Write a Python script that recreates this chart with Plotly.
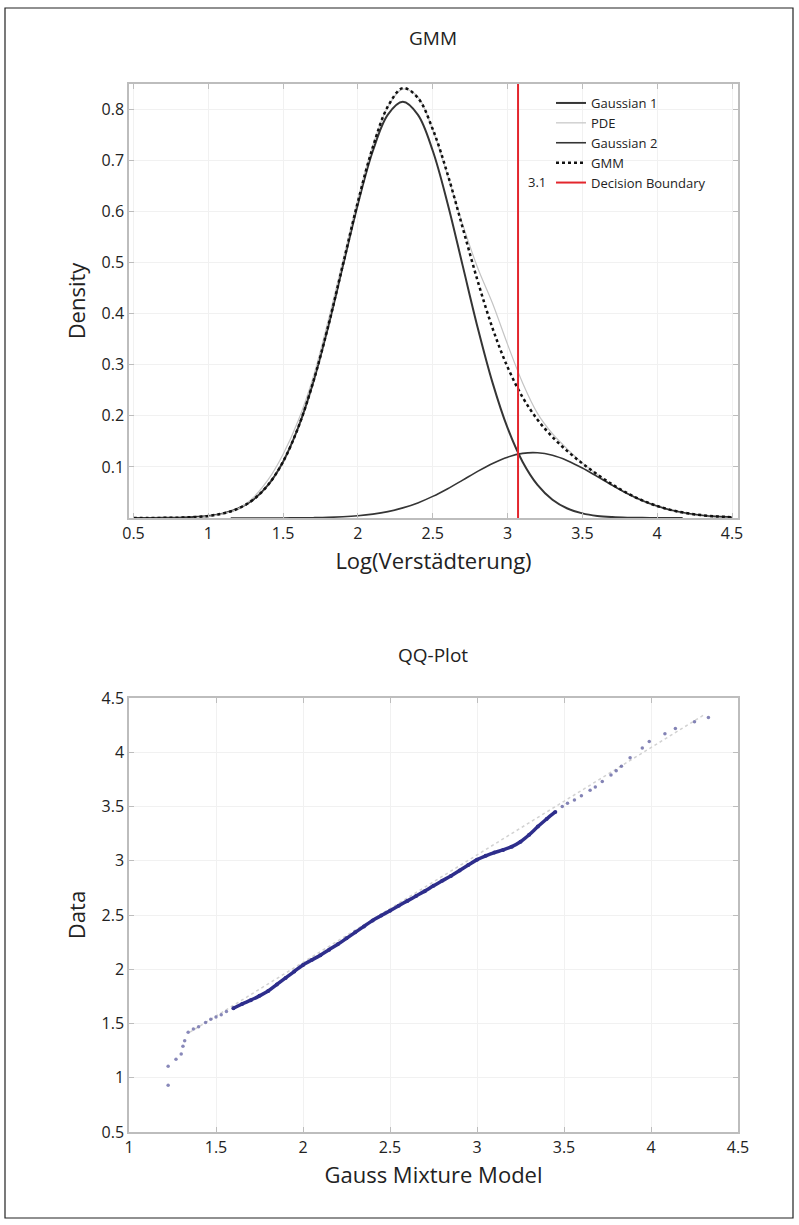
import plotly.graph_objects as go

W, H = 799, 1225

# ---------------- GMM panel data ----------------
g1_x = [0.5, 0.6, 0.7, 0.8, 0.9, 1.0, 1.1, 1.2, 1.3, 1.4, 1.5, 1.6, 1.7, 1.8, 1.9, 2.0, 2.1, 2.2, 2.3,
        2.4, 2.5, 2.6, 2.7, 2.8, 2.9, 3.0, 3.1, 3.2, 3.3, 3.4, 3.5, 3.6, 3.7, 3.8, 3.9, 4.0, 4.1, 4.17]
g1_y = [0.0000, 0.0001, 0.0003, 0.0007, 0.0018, 0.0041, 0.0090, 0.0186, 0.0358, 0.0649, 0.1103, 0.1763,
        0.2646, 0.3731, 0.4943, 0.6152, 0.7192, 0.7899, 0.8150, 0.7899, 0.7192, 0.6152, 0.4943, 0.3731,
        0.2646, 0.1763, 0.1103, 0.0649, 0.0358, 0.0186, 0.0090, 0.0041, 0.0018, 0.0007, 0.0003, 0.0001,
        0.0000, 0.0000]

g2_x = [1.15, 1.3, 1.4, 1.5, 1.6, 1.7, 1.8, 1.9, 2.0, 2.1, 2.2, 2.3, 2.4, 2.5, 2.6, 2.7, 2.8, 2.9, 3.0,
        3.1, 3.2, 3.3, 3.4, 3.5, 3.6, 3.7, 3.8, 3.9, 4.0, 4.1, 4.2, 4.3, 4.4, 4.5]
g2_y = [0.0000, 0.0000, 0.0001, 0.0001, 0.0003, 0.0006, 0.0012, 0.0024, 0.0044, 0.0076, 0.0125, 0.0198,
        0.0296, 0.0423, 0.0574, 0.0742, 0.0913, 0.1069, 0.1192, 0.1265, 0.1277, 0.1228, 0.1123, 0.0978,
        0.0811, 0.0640, 0.0480, 0.0343, 0.0234, 0.0151, 0.0093, 0.0055, 0.0031, 0.0016]

gmm_x = [0.5, 0.6, 0.7, 0.8, 0.9, 1.0, 1.1, 1.2, 1.3, 1.4, 1.5, 1.6, 1.7, 1.8, 1.9, 2.0, 2.1, 2.2, 2.3,
         2.4, 2.5, 2.6, 2.7, 2.8, 2.9, 3.0, 3.1, 3.2, 3.3, 3.4, 3.5, 3.6, 3.7, 3.8, 3.9, 4.0, 4.1, 4.2,
         4.3, 4.4, 4.5]
gmm_y = [0.0000, 0.0001, 0.0003, 0.0007, 0.0018, 0.0041, 0.0090, 0.0186, 0.0358, 0.0650, 0.1104, 0.1766,
         0.2652, 0.3743, 0.4967, 0.6196, 0.7268, 0.8060, 0.8420, 0.8230, 0.7615, 0.6726, 0.5685, 0.4644,
         0.3715, 0.2955, 0.2368, 0.1926, 0.1586, 0.1309, 0.1068, 0.0852, 0.0658, 0.0487, 0.0346, 0.0235,
         0.0151, 0.0093, 0.0055, 0.0031, 0.0016]

pde_x = [0.9, 1.0, 1.1, 1.2, 1.3, 1.4, 1.5, 1.6, 1.7, 1.8, 1.9, 2.0, 2.1, 2.2, 2.3, 2.4, 2.5, 2.6, 2.7,
         2.8, 2.9, 3.0, 3.1, 3.2, 3.3, 3.4, 3.5, 3.6, 3.7, 3.8, 3.9, 4.0, 4.1, 4.2, 4.3, 4.4]
pde_y = [0.000, 0.003, 0.008, 0.018, 0.040, 0.075, 0.125, 0.190, 0.275, 0.385, 0.505, 0.625, 0.730,
         0.805, 0.840, 0.825, 0.760, 0.670, 0.575, 0.490, 0.420, 0.340, 0.265, 0.205, 0.165, 0.135,
         0.108, 0.085, 0.064, 0.047, 0.033, 0.022, 0.014, 0.008, 0.004, 0.001]

decision_boundary = 3.07
decision_label = "3.1"

top_xticks = [0.5, 1, 1.5, 2, 2.5, 3, 3.5, 4, 4.5]
top_xticklabels = ["0.5", "1", "1.5", "2", "2.5", "3", "3.5", "4", "4.5"]
top_yticks = [0.1, 0.2, 0.3, 0.4, 0.5, 0.6, 0.7, 0.8]
top_yticklabels = ["0.1", "0.2", "0.3", "0.4", "0.5", "0.6", "0.7", "0.8"]

# ---------------- QQ panel data ----------------
qq_low_x = [1.225, 1.225, 1.27, 1.30, 1.31, 1.32, 1.34, 1.37, 1.40, 1.44, 1.47, 1.50, 1.53, 1.56]
qq_low_y = [0.93, 1.105, 1.17, 1.22, 1.29, 1.34, 1.42, 1.45, 1.47, 1.51, 1.54, 1.56, 1.58, 1.61]

qq_mid_x = [1.60, 1.65, 1.70, 1.75, 1.80, 1.85, 1.90, 1.95, 2.00, 2.05, 2.10, 2.15, 2.20, 2.25, 2.30,
            2.35, 2.40, 2.45, 2.50, 2.55, 2.60, 2.65, 2.70, 2.75, 2.80, 2.85, 2.90, 2.95, 3.00, 3.05,
            3.10, 3.15, 3.20, 3.25, 3.30, 3.35, 3.40, 3.45]
qq_mid_y = [1.64, 1.68, 1.715, 1.755, 1.80, 1.86, 1.92, 1.98, 2.04, 2.085, 2.13, 2.18, 2.23, 2.285, 2.34,
            2.395, 2.45, 2.495, 2.54, 2.585, 2.63, 2.675, 2.72, 2.77, 2.815, 2.86, 2.91, 2.96, 3.01, 3.045,
            3.075, 3.10, 3.13, 3.175, 3.24, 3.315, 3.385, 3.45]

qq_high_x = [3.49, 3.52, 3.56, 3.60, 3.65, 3.68, 3.72, 3.77, 3.80, 3.83, 3.88, 3.95, 3.99, 4.08, 4.14,
             4.25, 4.33]
qq_high_y = [3.50, 3.53, 3.56, 3.60, 3.65, 3.68, 3.73, 3.79, 3.83, 3.87, 3.95, 4.04, 4.10, 4.17, 4.22,
             4.28, 4.32]

qq_ref_x = [1.35, 4.31]
qq_ref_y = [1.42, 4.35]

bot_xticks = [1, 1.5, 2, 2.5, 3, 3.5, 4, 4.5]
bot_xticklabels = ["1", "1.5", "2", "2.5", "3", "3.5", "4", "4.5"]
bot_yticks = [0.5, 1, 1.5, 2, 2.5, 3, 3.5, 4, 4.5]
bot_yticklabels = ["0.5", "1", "1.5", "2", "2.5", "3", "3.5", "4", "4.5"]

FONT = "Open Sans"
TXT = "#222222"

def px_x(p):
    return p / W

def px_y(p):
    return 1 - p / H

fig = go.Figure()

# top panel traces
fig.add_trace(go.Scatter(x=g1_x, y=g1_y, mode="lines", name="Gaussian 1", line=dict(color="#353535", width=2, shape="spline"), xaxis="x", yaxis="y"))
fig.add_trace(go.Scatter(x=pde_x, y=pde_y, mode="lines", name="PDE", line=dict(color="#c4c4c4", width=1.2, shape="spline"), xaxis="x", yaxis="y"))
fig.add_trace(go.Scatter(x=g2_x, y=g2_y, mode="lines", name="Gaussian 2", line=dict(color="#353535", width=1.6, shape="spline"), xaxis="x", yaxis="y"))
fig.add_trace(go.Scatter(x=gmm_x, y=gmm_y, mode="lines", name="GMM", line=dict(color="#111111", width=2.5, dash="dot", shape="spline"), xaxis="x", yaxis="y"))
fig.add_trace(go.Scatter(x=[decision_boundary, decision_boundary], y=[0, 0.85], mode="lines", name="Decision Boundary", line=dict(color="#e3262d", width=2), xaxis="x", yaxis="y"))

# bottom panel traces
fig.add_trace(go.Scatter(x=qq_ref_x, y=qq_ref_y, mode="lines", showlegend=False, line=dict(color="#d2d2d2", width=1.5, dash="dot"), xaxis="x2", yaxis="y2"))
fig.add_trace(go.Scatter(x=qq_low_x, y=qq_low_y, mode="markers", showlegend=False, marker=dict(color="#6a6aa8", size=3.5, opacity=0.8), xaxis="x2", yaxis="y2"))
fig.add_trace(go.Scatter(x=qq_mid_x, y=qq_mid_y, mode="lines+markers", showlegend=False, line=dict(color="#2e2e8c", width=3.5, shape="spline"), marker=dict(color="#2e2e8c", size=4), xaxis="x2", yaxis="y2"))
fig.add_trace(go.Scatter(x=qq_high_x, y=qq_high_y, mode="markers", showlegend=False, marker=dict(color="#5a5a9c", size=3.5, opacity=0.75), xaxis="x2", yaxis="y2"))

axis_common = dict(
    showline=True, linecolor="#bdbdbd", linewidth=1.5, mirror="ticks",
    ticks="inside", ticklen=5, tickcolor="#bdbdbd", tickwidth=1,
    showgrid=True, gridcolor="#f1f1f1", gridwidth=1, zeroline=False, automargin=False,
    tickfont=dict(family=FONT, size=16, color=TXT),
)

xdom = [px_x(129), px_x(738)]
fig.update_layout(
    width=W, height=H,
    margin=dict(l=0, r=0, t=0, b=0),
    paper_bgcolor="white", plot_bgcolor="white",
    font=dict(family=FONT, color=TXT),
    xaxis=dict(domain=xdom, range=[0.47, 4.54], tickvals=top_xticks, ticktext=top_xticklabels,
               title=dict(text="Log(Verstädterung)", font=dict(family=FONT, size=22, color=TXT), standoff=11),
               anchor="y", **axis_common),
    yaxis=dict(domain=[px_y(518), px_y(84)], range=[0, 0.85], tickvals=top_yticks, ticktext=top_yticklabels,
               title=dict(text="Density", font=dict(family=FONT, size=22, color=TXT), standoff=10),
               anchor="x", **axis_common),
    xaxis2=dict(domain=xdom, range=[1, 4.5], tickvals=bot_xticks, ticktext=bot_xticklabels,
                title=dict(text="Gauss Mixture Model", font=dict(family=FONT, size=22, color=TXT), standoff=11),
                anchor="y2", **axis_common),
    yaxis2=dict(domain=[px_y(1132), px_y(698)], range=[0.5, 4.5], tickvals=bot_yticks, ticktext=bot_yticklabels,
                title=dict(text="Data", font=dict(family=FONT, size=22, color=TXT), standoff=10),
                anchor="x2", **axis_common),
    legend=dict(x=px_x(551), y=px_y(88), xanchor="left", yanchor="top",
                bgcolor="rgba(0,0,0,0)", borderwidth=0, itemwidth=30,
                font=dict(family=FONT, size=13, color=TXT), tracegroupgap=0),
    showlegend=True,
)

fig.add_annotation(text="GMM", x=px_x(433.5), y=px_y(38), xref="paper", yref="paper",
                   showarrow=False, font=dict(family=FONT, size=19, color=TXT), yanchor="middle")
fig.add_annotation(text="QQ-Plot", x=px_x(433.5), y=px_y(655), xref="paper", yref="paper",
                   showarrow=False, font=dict(family=FONT, size=19, color=TXT), yanchor="middle")
fig.add_annotation(text=decision_label, x=px_x(548), y=px_y(182), xref="paper", yref="paper",
                   showarrow=False, xanchor="right", yanchor="middle",
                   font=dict(family=FONT, size=13, color=TXT))

fig.add_shape(type="rect", xref="paper", yref="paper",
              x0=px_x(5), x1=px_x(793), y0=px_y(1218), y1=px_y(8),
              line=dict(color="#222222", width=1.2), fillcolor="rgba(0,0,0,0)")

fig.write_html(
    "out.html",
    config={"displayModeBar": False},
    post_script="document.body.style.margin='0';document.body.style.overflow='hidden';"
                "document.documentElement.style.overflow='hidden';",
)
